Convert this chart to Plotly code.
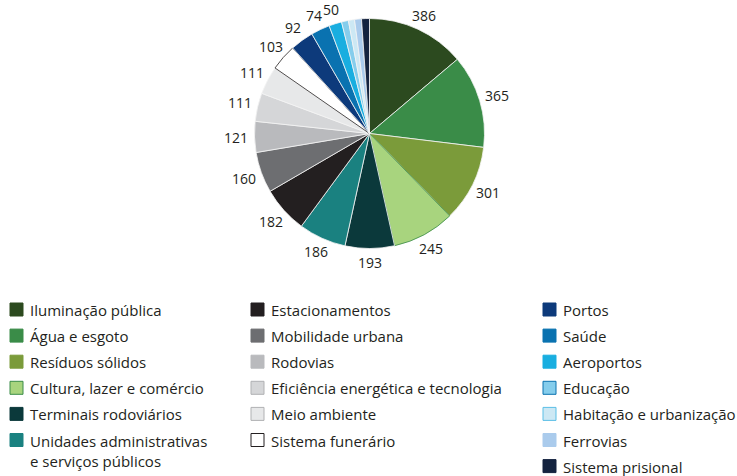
import math
import plotly.graph_objects as go

categories = [
    "Iluminação pública", "Água e esgoto", "Resíduos sólidos",
    "Cultura, lazer e comércio", "Terminais rodoviários",
    "Unidades administrativas<br>e serviços públicos",
    "Estacionamentos", "Mobilidade urbana", "Rodovias",
    "Eficiência energética e tecnologia", "Meio ambiente", "Sistema funerário",
    "Portos", "Saúde", "Aeroportos", "Educação",
    "Habitação e urbanização", "Ferrovias", "Sistema prisional",
]
values = [386, 365, 301, 245, 193, 186, 182, 160, 121, 111, 111, 103,
          92, 74, 50, 27, 24, 27, 31]
show_label = [True] * 15 + [False] * 4

colors = [
    "#2c4a1f", "#3a8c48", "#7b9b3a", "#a8d47e", "#0b393b", "#1a8180",
    "#231f20", "#6d6e71", "#b9babd", "#d5d6d8", "#e7e8e9", "#ffffff",
    "#0d3a7b", "#0a72b0", "#19aee0", "#85cdec", "#cce8f4", "#aacbec",
    "#14233f",
]
line_colors = ["#f4f4f4"] * 19
line_colors[3] = "#3a8c48"
line_colors[11] = "#231f20"

W, H = 737, 476
FONT = "Open Sans"
TXT = "#231f20"

cx, cy, r = 369.5, 133.5, 115
fig = go.Figure(go.Pie(
    labels=categories, values=values, textinfo="none",
    sort=False, direction="clockwise", rotation=0,
    marker=dict(colors=colors, line=dict(color=line_colors, width=0.8)),
    domain=dict(x=[(cx - r) / W, (cx + r) / W], y=[1 - (cy + r) / H, 1 - (cy - r) / H]),
    showlegend=False, hoverinfo="label+value",
))

annotations, shapes = [], []

# value labels outside the slices, at each slice's mid-angle
total = sum(values)
cum = 0
for v, s in zip(values, show_label):
    mid = (cum + v / 2) / total * 2 * math.pi
    cum += v
    if not s:
        continue
    sn, cs = math.sin(mid), math.cos(mid)
    d = r + 6 + math.hypot(12.5 * sn, 8 * cs)
    px = cx + d * sn
    py = cy - d * cs
    annotations.append(dict(xref="paper", yref="paper", x=px / W, y=1 - py / H,
                            xanchor="center", yanchor="middle", text=str(v),
                            showarrow=False, borderpad=0,
                            font=dict(size=14, color=TXT, family=FONT)))

# legend built from categories
col_x = [10, 251, 543]
col_rows = [range(0, 6), range(6, 12), range(12, 19)]
row_y0, row_dy, sw = 309.5, 26.1, 13
for c, rows in enumerate(col_rows):
    for k, i in enumerate(rows):
        yc = row_y0 + k * row_dy
        x0 = col_x[c]
        lc = line_colors[i] if line_colors[i] != "#f4f4f4" else colors[i]
        if i in (9, 10):
            lc = "#b0b1b3"
        if i == 15:
            lc = "#0a72b0"
        if i == 16:
            lc = "#5bbfe6"
        shapes.append(dict(type="rect", xref="paper", yref="paper",
                           x0=x0 / W, x1=(x0 + sw) / W,
                           y0=1 - (yc + sw / 2) / H, y1=1 - (yc - sw / 2) / H,
                           fillcolor=colors[i], line=dict(color=lc, width=1)))
        annotations.append(dict(xref="paper", yref="paper", x=(x0 + sw + 6) / W,
                                y=1 - (yc - 10.5) / H, xanchor="left", yanchor="top",
                                text=categories[i], showarrow=False, align="left",
                                borderpad=0,
                                font=dict(size=15, color=TXT, family=FONT)))

fig.update_layout(
    width=W, height=H, margin=dict(l=0, r=0, t=0, b=0),
    paper_bgcolor="white", plot_bgcolor="white",
    shapes=shapes, annotations=annotations,
    font=dict(family=FONT),
)
fig.write_html("out.html", config={"displayModeBar": False},
               post_script="document.body.style.margin='0';document.body.style.padding='0';")
